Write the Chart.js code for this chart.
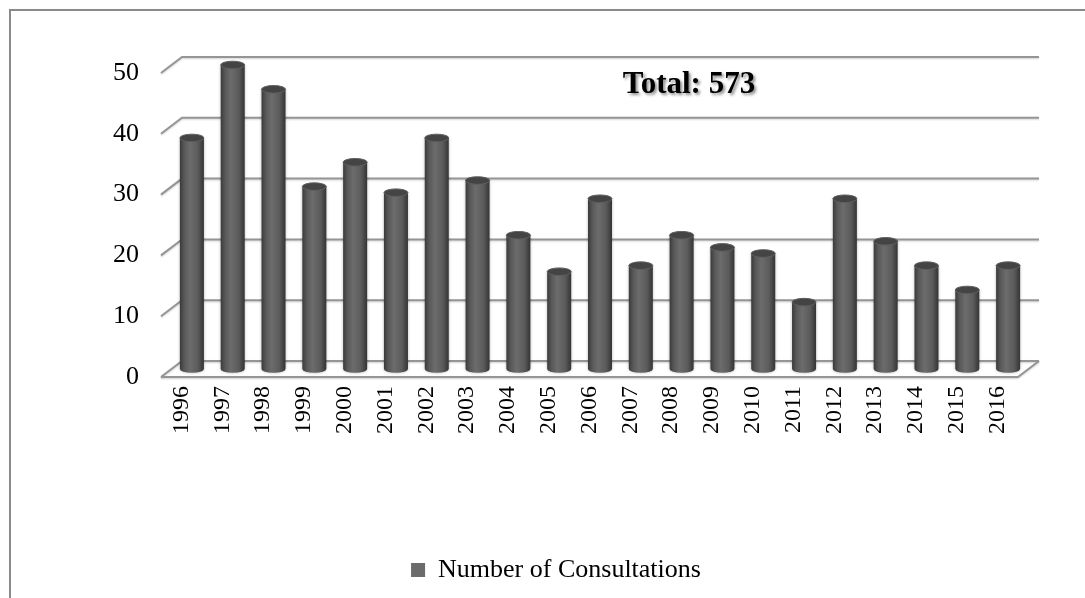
<!DOCTYPE html>
<html>
<head>
<meta charset="utf-8">
<script src="https://cdn.jsdelivr.net/npm/chart.js@4.4.1/dist/chart.umd.min.js"></script>
<style>
  html, body { margin: 0; padding: 0; background: #fff; }
  #wrap { width: 1085px; height: 598px; }
</style>
</head>
<body>
<div id="wrap"><canvas id="consultChart"></canvas></div>
<script>
const years = ['1996', '1997', '1998', '1999', '2000', '2001', '2002', '2003', '2004', '2005', '2006',
  '2007', '2008', '2009', '2010', '2011', '2012', '2013', '2014', '2015', '2016'];
const consultations = [38, 50, 46, 30, 34, 29, 38, 31, 22, 16, 28, 17, 22, 20, 19, 11, 28, 21, 17, 13, 17];
const yTicks = [0, 10, 20, 30, 40, 50];
const totalLabel = 'Total: 573';
const seriesLabel = 'Number of Consultations';

const serif = '"Liberation Serif", "Times New Roman", serif';
const DX = 21, DY = 16; // depth of the 3d box

// walls, floor and frame
const boxPlugin = {
  id: 'box3d',
  beforeDraw(chart) {
    const { ctx, chartArea: a, scales: { y } } = chart;
    ctx.save();
    // outer frame
    ctx.strokeStyle = '#8a8a8a';
    ctx.lineWidth = 2;
    ctx.beginPath();
    ctx.moveTo(10, 598);
    ctx.lineTo(10, 10);
    ctx.lineTo(1085, 10);
    ctx.stroke();

    ctx.strokeStyle = '#959595';
    ctx.lineWidth = 2;
    ctx.shadowColor = 'rgba(0,0,0,0.18)';
    ctx.shadowBlur = 2;
    ctx.shadowOffsetY = 1;
    yTicks.forEach((t) => {
      const fy = y.getPixelForValue(t);
      ctx.beginPath();
      ctx.moveTo(a.left, fy);
      ctx.lineTo(a.left + DX, fy - DY);
      ctx.lineTo(a.right + DX, fy - DY);
      ctx.stroke();
    });
    // floor outline
    const fb = y.getPixelForValue(0);
    ctx.beginPath();
    ctx.moveTo(a.left, fb);
    ctx.lineTo(a.right, fb);
    ctx.lineTo(a.right + DX, fb - DY);
    ctx.stroke();
    ctx.restore();
  },
  beforeDatasetsDraw(chart) {
    const { ctx } = chart;
    const meta = chart.getDatasetMeta(0);
    ctx.save();
    meta.data.forEach((bar) => {
      const cx = bar.x + DX / 2;
      const top = bar.y - DY / 2;
      const base = bar.base - DY / 2;
      const rx = 12, ry = 3.8;
      const g = ctx.createLinearGradient(cx - rx, 0, cx + rx, 0);
      g.addColorStop(0, '#3a3a3a');
      g.addColorStop(0.18, '#585858');
      g.addColorStop(0.42, '#6c6c6c');
      g.addColorStop(0.75, '#5b5b5b');
      g.addColorStop(1, '#343434');
      ctx.shadowColor = 'rgba(0,0,0,0.3)';
      ctx.shadowBlur = 3;
      ctx.fillStyle = g;
      ctx.beginPath();
      ctx.moveTo(cx - rx, top);
      ctx.lineTo(cx - rx, base);
      ctx.ellipse(cx, base, rx, ry, 0, Math.PI, 0, true);
      ctx.lineTo(cx + rx, top);
      ctx.closePath();
      ctx.fill();
      ctx.shadowColor = 'transparent';
      ctx.fillStyle = '#444444';
      ctx.strokeStyle = '#5e5e5e';
      ctx.lineWidth = 1;
      ctx.beginPath();
      ctx.ellipse(cx, top, rx, ry, 0, 0, Math.PI * 2);
      ctx.fill();
      ctx.stroke();
    });
    ctx.restore();
    return false;
  },
  afterDraw(chart) {
    const { ctx } = chart;
    ctx.save();
    ctx.font = 'bold 31px ' + serif;
    ctx.textAlign = 'center';
    ctx.textBaseline = 'alphabetic';
    ctx.fillStyle = '#000';
    ctx.shadowColor = 'rgba(0,0,0,0.45)';
    ctx.shadowBlur = 3;
    ctx.shadowOffsetX = 2;
    ctx.shadowOffsetY = 2;
    ctx.fillText(totalLabel, 689, 93);
    ctx.restore();
  },
};

Chart.defaults.font.family = serif;
Chart.defaults.color = '#000';

new Chart(document.getElementById('consultChart'), {
  type: 'bar',
  data: {
    labels: years,
    datasets: [{
      label: seriesLabel,
      data: consultations,
      backgroundColor: '#6b6b6b',
      borderWidth: 0,
    }],
  },
  options: {
    responsive: true,
    maintainAspectRatio: false,
    animation: false,
    layout: { padding: { left: 94, right: 67, top: 73, bottom: 5 } },
    plugins: {
      tooltip: { enabled: false },
      legend: {
        position: 'bottom',
        labels: { boxWidth: 14, boxHeight: 14, padding: 4, font: { size: 26 }, color: '#000' },
      },
    },
    scales: {
      x: {
        grid: { display: false, drawTicks: false },
        border: { display: false },
        ticks: { minRotation: 90, maxRotation: 90, padding: 9, font: { size: 24 }, color: '#000' },
        afterFit: (s) => { s.height = 176; },
      },
      y: {
        min: 0,
        max: 50,
        grid: { display: false, drawTicks: false },
        border: { display: false },
        ticks: { stepSize: 10, padding: 22, font: { size: 26 }, color: '#000' },
        afterFit: (s) => { s.width = 67; },
      },
    },
  },
  plugins: [boxPlugin],
});
</script>
</body>
</html>
